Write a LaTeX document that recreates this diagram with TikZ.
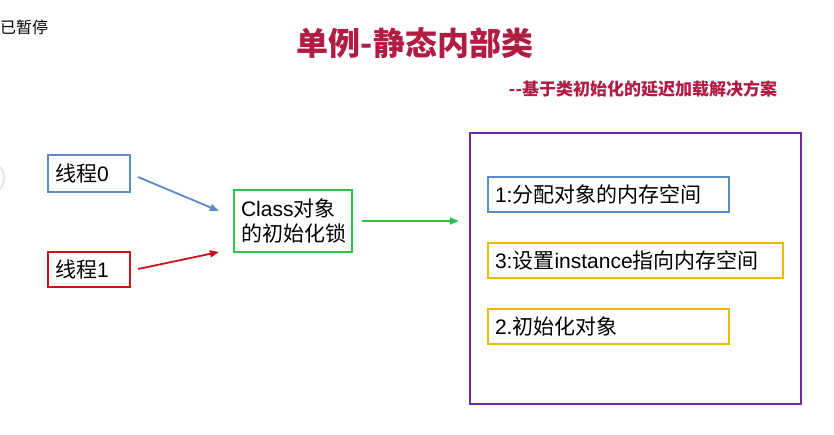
\documentclass[tikz,border=0pt]{standalone}
\usepackage{fontspec}
\setmainfont{Liberation Sans}
\newfontfamily\cjk{Noto Sans CJK SC}
\usetikzlibrary{arrows.meta,calc}
\definecolor{titlered}{RGB}{176,28,66}
\definecolor{bblue}{RGB}{92,140,200}
\definecolor{bred}{RGB}{204,18,24}
\definecolor{bgreen}{RGB}{40,196,72}
\definecolor{bpurple}{RGB}{112,44,160}
\definecolor{byellow}{RGB}{236,186,0}
\begin{document}
\begin{tikzpicture}[x=1pt,y=-1pt,
  boxstyle/.style={draw, line width=2.2pt, rectangle, inner xsep=6pt, inner ysep=0pt,
     font=\fontsize{21}{25}\selectfont, align=left, anchor=center},
  arr/.style={line width=1.8pt, -{Triangle[length=9pt,width=7pt]}}]
\useasboundingbox[fill=white] (0,0) rectangle (834,435);
% faint screen artifact
\draw[gray!18, line width=2pt] (-14,178) circle[radius=18];
% paused label
\node[anchor=west, font=\fontsize{16}{18}\selectfont\cjk, inner sep=0pt] (paused) at (0,27) {已暂停};
% title
\node[font=\fontsize{32}{36}\selectfont\cjk\bfseries, text=titlered, inner sep=0pt] (title) at (415,43) {单例-静态内部类};
\node[font=\fontsize{17}{20}\selectfont\cjk\bfseries, text=titlered, inner sep=0pt] (subtitle) at (643,88.5) {--基于类初始化的延迟加载解决方案};
% threads
\node[boxstyle, draw=bblue, minimum width=82pt, minimum height=37pt, text width=68pt] (t0) at (89,173.5) {{\cjk 线程}0};
\node[boxstyle, draw=bred, minimum width=82pt, minimum height=35pt, text width=68pt] (t1) at (89,269.5) {{\cjk 线程}1};
% class lock
\node[boxstyle, draw=bgreen, minimum width=118pt, minimum height=62pt, text width=104pt] (cls) at (293,221) {Class{\cjk 对象}\\{\cjk 的初始化锁}};
% container
\node[draw=bpurple, line width=2.2pt, minimum width=331pt, minimum height=271pt, inner sep=0pt] (cont) at (635.5,268.5) {};
\node[boxstyle, draw=bblue, minimum width=241pt, minimum height=35pt, text width=227pt] (b1) at (608.5,194.5) {1:{\cjk 分配对象的内存空间}};
\node[boxstyle, draw=byellow, minimum width=295pt, minimum height=35pt, text width=281pt] (b3) at (635.5,260.5) {3:{\cjk 设置}instance{\cjk 指向内存空间}};
\node[boxstyle, draw=byellow, minimum width=241pt, minimum height=35pt, text width=227pt] (b2) at (608.5,326.5) {2.{\cjk 初始化对象}};
% arrows
\draw[arr, draw=bblue, fill=bblue] ([shift={(7,3.5)}]t0.east) -- ([shift={(-14,-10)}]cls.west);
\draw[arr, draw=bred, fill=bred] ([shift={(7,-0.5)}]t1.east) -- ([shift={(-14,31)}]cls.west);
\draw[arr, draw=bgreen, fill=bgreen] ([shift={(9,0)}]cls.east) -- ([shift={(-10,-47.5)}]cont.west);
\end{tikzpicture}
\end{document}
